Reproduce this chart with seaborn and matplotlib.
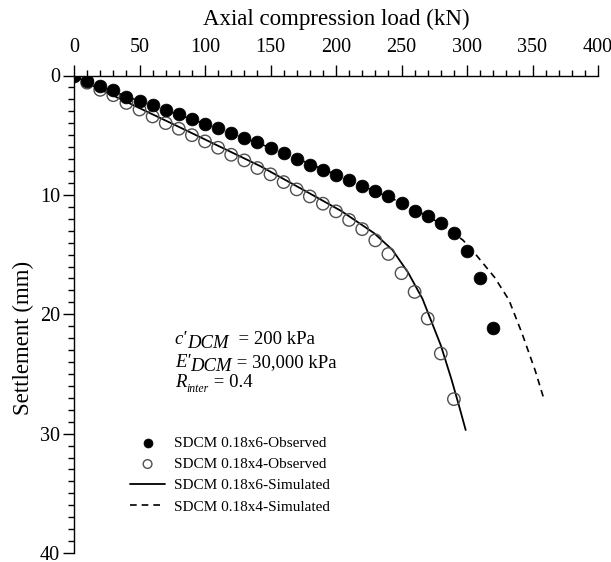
import matplotlib
matplotlib.use("Agg")
import matplotlib.pyplot as plt
from matplotlib.ticker import MultipleLocator
import seaborn as sns
import pandas as pd

# ---------------- data ----------------
load_obs_6 = [0, 10, 20, 30, 40, 50, 60, 70, 80, 90, 100, 110, 120, 130, 140, 150,
              160, 170, 180, 190, 200, 210, 220, 230, 240, 250, 260, 270, 280, 290,
              300, 310, 320]
sett_obs_6 = [0, 0.5, 0.85, 1.2, 1.8, 2.15, 2.45, 2.9, 3.2, 3.65, 4.05, 4.4, 4.85,
              5.22, 5.58, 6.08, 6.5, 6.97, 7.46, 7.88, 8.31, 8.79, 9.27, 9.68, 10.13,
              10.68, 11.33, 11.77, 12.36, 13.16, 14.7, 16.95, 21.15]

load_obs_4 = [0, 10, 20, 30, 40, 50, 60, 70, 80, 90, 100, 110, 120, 130, 140, 150,
              160, 170, 180, 190, 200, 210, 220, 230, 240, 250, 260, 270, 280, 290]
sett_obs_4 = [0, 0.6, 1.2, 1.65, 2.3, 2.85, 3.43, 3.99, 4.46, 5.0, 5.52, 6.05, 6.64,
              7.11, 7.75, 8.28, 8.93, 9.54, 10.13, 10.74, 11.38, 12.1, 12.87, 13.81,
              14.95, 16.56, 18.13, 20.36, 23.29, 27.11]

load_sim_6 = [0, 15, 80, 142, 178, 204, 229, 243, 255, 266, 280, 288, 294, 299]
sett_sim_6 = [0, 0.9, 4.3, 7.58, 9.76, 11.35, 13.2, 14.6, 16.5, 18.7, 22.6, 25.4, 27.7, 29.7]

load_sim_4 = [0, 10, 50, 100, 150, 200, 250, 280, 297, 306, 321, 332, 342, 352, 359]
sett_sim_4 = [0, 0.5, 2.15, 4.05, 6.05, 8.3, 10.65, 12.4, 13.8, 14.9, 16.9, 18.8, 21.6, 24.7, 27.2]

labels = ["SDCM 0.18x6-Observed", "SDCM 0.18x4-Observed",
          "SDCM 0.18x6-Simulated", "SDCM 0.18x4-Simulated"]

x_ticks = [0, 50, 100, 150, 200, 250, 300, 350, 400]
y_ticks = [0, 10, 20, 30, 40]

# ---------------- style ----------------
sns.set_theme(style="ticks")
plt.rcParams['font.family'] = ['Liberation Serif', 'DejaVu Serif']

fig = plt.figure(figsize=(6.11, 5.62), dpi=100)
W, H = 611, 562
ax = fig.add_axes([74 / W, 1 - 553 / H, 524 / W, (553 - 75.5) / H])

df6s = pd.DataFrame({"x": load_sim_6, "y": sett_sim_6})
df4s = pd.DataFrame({"x": load_sim_4, "y": sett_sim_4})
df6o = pd.DataFrame({"x": load_obs_6, "y": sett_obs_6})
df4o = pd.DataFrame({"x": load_obs_4, "y": sett_obs_4})

sns.lineplot(data=df6s, x="x", y="y", ax=ax, color="black", lw=1.3,
             sort=False, estimator=None, label=labels[2], zorder=2)
sns.lineplot(data=df4s, x="x", y="y", ax=ax, color="black", lw=1.2,
             sort=False, estimator=None, label=labels[3], zorder=2)
ax.lines[-1].set_dashes([4, 3])

sns.scatterplot(data=df4o, x="x", y="y", ax=ax, color="white", s=80,
                edgecolor="#505050", linewidth=1.0, label=labels[1], zorder=3)
coll = ax.collections[-1]
coll.set_facecolor("none")
coll.set_edgecolor("#505050")

sns.scatterplot(data=df6o, x="x", y="y", ax=ax, color="black", s=85,
                edgecolor="black", linewidth=0.5, label=labels[0], zorder=4)

# ---------------- axes ----------------
ax.set_xlim(0, 400)
ax.set_ylim(40, 0)
ax.xaxis.set_ticks_position("top")
ax.xaxis.set_label_position("top")
ax.set_xticks(x_ticks)
ax.set_yticks(y_ticks)
ax.xaxis.set_minor_locator(MultipleLocator(10))
ax.yaxis.set_minor_locator(MultipleLocator(1))
ax.tick_params(which="major", length=8, width=1.0, direction="out",
               labelsize=14.5, color="black", labelcolor="black")
ax.tick_params(axis="x", which="major", pad=5)
ax.tick_params(axis="y", which="major", pad=2)
ax.tick_params(which="minor", length=4.5, width=1.0, direction="out", color="black")
for s in ["right", "bottom"]:
    ax.spines[s].set_visible(False)
for s in ["left", "top"]:
    ax.spines[s].set_color("black")
    ax.spines[s].set_linewidth(1.0)

ax.set_xlabel("Axial compression load (kN)", fontsize=16.5, labelpad=10, color="black")
ax.set_ylabel("Settlement (mm)", fontsize=16.5, color="black")
ax.yaxis.set_label_coords(-0.076, 0.45)

# ---------------- legend ----------------
h, l = ax.get_legend_handles_labels()
order = [l.index(lb) for lb in labels]
leg = ax.legend([h[i] for i in order], [l[i] for i in order],
                loc="upper left", bbox_to_anchor=(130 / W, 1 - 436 / H),
                bbox_transform=fig.transFigure, frameon=False, fontsize=11,
                handlelength=2.3, handletextpad=0.55, labelspacing=0.5,
                borderpad=0, borderaxespad=0, markerscale=0.7)
for t in leg.get_texts():
    t.set_color("black")

# ---------------- annotation ----------------
def chain(x, y, parts):
    first = parts[0]
    prev = ax.text(x, y, first[0], fontsize=first[3], fontstyle=first[1],
                   va="baseline", ha="left", color="black")
    prev_dy = first[2]
    for txt, style, dy, sz in parts[1:]:
        prev = ax.annotate(txt, xy=(1, 0), xycoords=prev,
                           xytext=(0, dy - prev_dy), textcoords="offset points",
                           va="bottom", ha="left", fontsize=sz, fontstyle=style,
                           color="black")
        prev_dy = dy

fs = 13.5
chain(77, 22.5, [("c'", "italic", 0, fs), ("DCM", "italic", -3, fs),
                 ("  = 200 kPa", "normal", 0, fs)])
chain(77, 24.4, [("E'", "italic", 0, fs), ("DCM", "italic", -3, fs),
                 (" = 30,000 kPa", "normal", 0, fs)])
chain(77, 26.1, [("R", "italic", 0, fs), ("inter", "italic", -3, 8.5),
                 (" = 0.4", "normal", 0, fs)])

fig.savefig("out.png", dpi=100)
